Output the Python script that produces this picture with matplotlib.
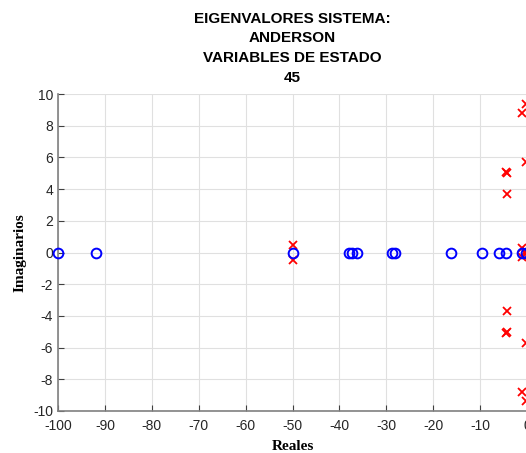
import numpy as np
import matplotlib.pyplot as plt

plt.rcParams['axes.unicode_minus'] = False

# ceros (circulos azules), todos sobre el eje real
zeros_re = [-100, -91.8, -50, -38, -37.3, -36.3, -28.7, -28.1,
            -16.3, -9.7, -6.0, -4.5, -1.1, -0.2]
zeros_im = [0] * len(zeros_re)

# eigenvalores (cruces rojas), pares conjugados
eig_re = [-0.3, -1.0, -0.3, -4.3, -4.4, -4.3, -1.0, -0.2, -50]
eig_im = [9.4, 8.8, 5.7, 5.0, 5.1, 3.7, 0.3, 0.1, 0.45]
eig_re_all = eig_re + eig_re
eig_im_all = eig_im + [-v for v in eig_im]

fig = plt.figure(figsize=(5.26, 4.53), dpi=100)
ax = fig.add_axes([58 / 526, 42 / 453, 469 / 526, 317 / 453])

ax.plot(eig_re_all, eig_im_all, 'x', color='red', markersize=6, mew=1.3,
        linestyle='', clip_on=False, zorder=3)
ax.plot(zeros_re, zeros_im, 'o', color='blue', markersize=7, mew=1.4,
        mfc='none', linestyle='', clip_on=False, zorder=4)

ax.set_xlim(-100, 0)
ax.set_ylim(-10, 10)
ax.set_xticks(np.arange(-100, 1, 10))
ax.set_yticks(np.arange(-10, 11, 2))
ax.grid(True, color='#e0e0e0', linewidth=0.8)
ax.set_axisbelow(True)

for s in ['top', 'right']:
    ax.spines[s].set_visible(False)
for s in ['left', 'bottom']:
    ax.spines[s].set_color('#808080')
    ax.spines[s].set_linewidth(1.2)
ax.tick_params(direction='in', length=4, color='#404040', labelsize=10,
               labelcolor='#262626')
ax.tick_params(axis='x', pad=6)
for lab in ax.get_xticklabels() + ax.get_yticklabels():
    lab.set_family('Liberation Sans')

ax.set_xlabel('Reales', family='Liberation Serif', fontweight='bold',
              fontsize=11, labelpad=5)
ax.set_ylabel('Imaginarios', family='Liberation Serif', fontweight='bold',
              fontsize=11, labelpad=5)
ax.set_title('EIGENVALORES SISTEMA:\nANDERSON\nVARIABLES DE ESTADO\n45',
             family='Liberation Sans', fontweight='bold', fontsize=11,
             linespacing=1.5, pad=9)

fig.savefig('out.png', dpi=100)
plt.close()
